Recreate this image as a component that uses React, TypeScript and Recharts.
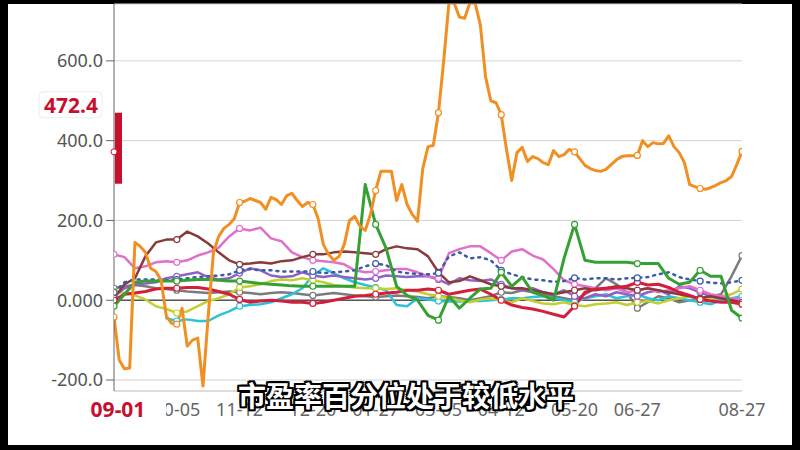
import React from "react";
import {
  LineChart,
  Line,
  XAxis,
  YAxis,
  CartesianGrid,
  ReferenceLine,
  ReferenceArea,
  ReferenceDot,
} from "recharts";

// label days on the x axis (day 0 = 09-01)
const tickDays = [0, 36, 72, 114, 150, 186, 222, 264, 300, 360];
const tickLabels = ["09-01", "10-05", "11-12", "12-20", "01-27", "03-05", "04-12", "05-20", "06-27", "08-27"];
const markerDays = [0, 36, 72, 114, 150, 186, 222, 264, 300, 336, 360];
const yTicks = [-200, 0, 200, 400, 600];

// orange sampled every 3 days, the rest every 6 days
const orange = [
  -42, -150, -172, -170, 145, 135, 120, 80, 72, 50,
  -40, -58, -60, -20, -115, -100, -95, -215, -40, 120,
  160, 180, 190, 205, 245, 248, 255, 250, 245, 228,
  258, 252, 240, 262, 268, 250, 235, 245, 240, 205,
  140, 115, 100, 110, 140, 200, 210, 185, 175, 215,
  275, 323, 323, 323, 250, 290, 240, 215, 198, 330,
  385, 388, 470, 600, 745, 745, 710, 707, 745, 745,
  690, 560, 500, 495, 465, 378, 300, 370, 383, 348,
  360, 355, 345, 340, 375, 360, 365, 378, 372, 355,
  338, 330, 325, 323, 328, 340, 352, 360, 362, 362,
  363, 400, 385, 395, 392, 393, 412, 385, 370, 345,
  290, 285, 280, 278, 282, 288, 295, 300, 310, 340,
  373,
];
const green = [
  -15, 15, 45, 48, 48, 48, 48, 50, 52, 52,
  50, 48, 48, 45, 42, 40, 38, 36, 35, 35,
  35, 35, 35, 35, 290, 190, 130, 35, 12, 0,
  -38, -50, 10, -20, 5, 28, 30, 70, 35, 58,
  20, 12, 0, 105, 190, 100, 95, 95, 95, 95,
  92, 92, 92, 55, 40, 45, 75, 60, 60, -25,
  -45,
];
const brown = [
  5, 40, 55, 110, 145, 152, 152, 172, 160, 142,
  120, 100, 90, 92, 95, 92, 98, 100, 108, 115,
  115, 120, 122, 120, 118, 115, 128, 135, 130, 128,
  110, 70, 45, 48, 60, 50, 40, 35, 30, 30,
  25, 20, 15, 20, 25, 30, 25, 30, 35, 30,
  25, 30, 25, 20, 15, 10, 5, 10, 5, 0,
  -5,
];
const pink = [
  115, 108, 80, 85, 95, 98, 95, 100, 112, 120,
  132, 160, 180, 175, 182, 155, 148, 120, 108, 100,
  98, 95, 90, 75, 70, 72, 75, 78, 78, 70,
  60, 55, 118, 128, 135, 135, 118, 100, 122, 128,
  112, 102, 78, 50, 40, 35, 30, 25, 30, 20,
  25, 30, 20, 25, 30, 35, 25, 15, 10, 5,
  0,
];
const blueDotted = [
  20, 45, 52, 52, 52, 50, 52, 55, 58, 60,
  62, 65, 75, 78, 75, 75, 72, 72, 72, 72,
  68, 70, 72, 75, 85, 92, 88, 72, 68, 66,
  65, 68, 110, 120, 105, 108, 100, 75, 65, 58,
  52, 50, 46, 48, 56, 52, 55, 55, 52, 55,
  56, 58, 65, 70, 58, 52, 48, 44, 42, 45,
  50,
];
const purple = [
  10, 30, 40, 42, 45, 55, 60, 65, 70, 58,
  52, 55, 68, 80, 75, 62, 58, 60, 70, 62,
  58, 62, 58, 55, 52, 55, 62, 60, 58, 60,
  60, 52, 40, 55, 50, 48, 52, 40, 30, 25,
  30, 20, 15, 25, 10, 5, 15, 10, 20, 15,
  10, 20, 25, 15, 35, 30, 20, 10, 5, 0,
  -5,
];
const yellow = [
  22, 18, 12, 2, -15, -22, -32, -28, -15, -2,
  5, 15, 32, 35, 40, 48, 52, 50, 55, 50,
  45, 38, 35, 32, 30, 30, 28, 30, 25, 22,
  15, 10, 5, 0, -5, 2, 5, 0, -5, 5,
  -2, -8, -10, -5, -12, -15, -10, -8, -5, -12,
  -5, -2, -8, 0, 5, 10, 2, 5, 10, 15,
  28,
];
const cyan = [
  null, null, null, null, null, -45, -52, -48, -52, -52,
  -38, -28, -15, -12, -10, -5, 5, 15, 30, 62,
  80, 68, 55, 45, 38, 32, 25, -12, -15, 5,
  2, -2, -3, -3, -2, -2, 0, 2, 5, 5,
  8, 10, 5, 0, -5, 5, 10, 15, 5, 10,
  15, 5, 0, 10, 5, 0, -5, -10, 0, 5,
  10,
];
const crimson = [
  0, 15, 18, 22, 28, 30, 30, 32, 32, 28,
  22, 15, 2, -5, -2, 0, -2, -5, -5, -8,
  -5, 0, 5, 10, 12, 15, 18, 20, 25, 25,
  28, 25, 15, 20, 25, 28, 15, 0, -12, -18,
  -22, -28, -35, -42, -15, 20, 28, 30, 32, 35,
  45, 38, 40, 32, 20, 12, 2, -2, -5, -5,
  -10,
];
const gray = [
  30, 35, 38, 35, 30, 28, 25, 22, 20, 18,
  20, 22, 20, 18, 15, 18, 20, 18, 15, 12,
  15, 18, 15, 12, 10, 8, 10, 12, 10, 8,
  5, 10, 8, 5, 0, 5, 10, 20, 18, 25,
  20, 15, 10, 5, 0, 15, 30, 55, 40, 20,
  -20, -5, 10, 5, -5, 0, 5, 10, 15, 60,
  112,
];

const RED = "#c8102e";
const FONT = "'Noto Sans', sans-serif";

const toPoints = (vals: (number | null)[], step: number) =>
  vals.map((v, i) => ({ day: i * step, v }));

const series = [
  { name: "gray", vals: gray, step: 6, color: "#7b7b7b", width: 2.5 },
  { name: "cyan", vals: cyan, step: 6, color: "#2cc3d8", width: 2.5 },
  { name: "yellow", vals: yellow, step: 6, color: "#c3cf33", width: 2.5 },
  { name: "purple", vals: purple, step: 6, color: "#8f63c6", width: 2.5 },
  { name: "pink", vals: pink, step: 6, color: "#e071cb", width: 2.5 },
  { name: "brown", vals: brown, step: 6, color: "#8b3a3a", width: 2.5 },
  { name: "crimson", vals: crimson, step: 6, color: "#d41f3c", width: 3 },
  { name: "blue", vals: blueDotted, step: 6, color: "#3b5ca8", width: 2.5, dash: "2 5" },
  { name: "green", vals: green, step: 6, color: "#35a034", width: 3 },
  { name: "orange", vals: orange, step: 3, color: "#f18f22", width: 3 },
];

const markerDot = (color: string) => (props: any) => {
  const { cx, cy, payload, index } = props;
  if (cx == null || cy == null || payload.v == null || !markerDays.includes(payload.day)) {
    return <g key={index} />;
  }
  return <circle key={index} cx={cx} cy={cy} r={3} fill="#fff" stroke={color} strokeWidth={1.2} />;
};

const fmtY = (v: number) => (v === 0 ? "0.000" : v.toFixed(1));

function XTick(props: any) {
  const { x, y, payload } = props;
  const idx = tickDays.indexOf(payload.value);
  const first = idx === 0;
  if (first) {
    // axis pointer tag: white box that covers the start of the next label
    return (
      <g>
        <rect x={x - 34} y={y + 6} width={86} height={26} fill="#fff" />
        <text x={x + 4} y={y} dy={26} textAnchor="middle" fill={RED} fontSize={21} fontWeight={700} fontFamily={FONT}>
          {tickLabels[idx]}
        </text>
      </g>
    );
  }
  return (
    <text x={x} y={y} dy={25} textAnchor="middle" fill="#666" fontSize={18} fontFamily={FONT}>
      {tickLabels[idx]}
    </text>
  );
}

function PriceTag(props: any) {
  const { viewBox } = props;
  if (!viewBox) return null;
  const { x, y } = viewBox;
  return (
    <g>
      <rect x={x - 75} y={y - 20} width={63} height={26} rx={4} fill="#fff" stroke="#ececec" />
      <text x={x - 43} y={y + 1} textAnchor="middle" fill={RED} fontSize={21} fontWeight={700} fontFamily={FONT}>
        472.4
      </text>
    </g>
  );
}

export default function App() {
  return (
    <div style={{ position: "fixed", left: 0, top: 0, width: 800, height: 450, background: "#000", overflow: "hidden" }}>
      <div style={{ position: "absolute", left: 8, top: 4, width: 784, height: 441, background: "#fff" }} />
      <div style={{ position: "absolute", left: 0, top: 0 }}>
        <LineChart width={800} height={450} margin={{ top: 4, right: 58, bottom: 29, left: 0 }}>
          <CartesianGrid vertical={false} stroke="#d4d4d4" />
          <XAxis
            dataKey="day"
            type="number"
            domain={[0, 360]}
            allowDataOverflow
            ticks={[...tickDays.slice(1), tickDays[0]]}
            interval={0}
            height={30}
            tickLine={false}
            tickSize={0}
            tickMargin={0}
            axisLine={{ stroke: "#cfcfcf" }}
            tick={<XTick />}
          />
          <YAxis
            type="number"
            domain={[-227.5, 742.5]}
            allowDataOverflow
            ticks={yTicks}
            interval={0}
            width={114}
            tickFormatter={fmtY}
            tickSize={8}
            tickMargin={3}
            axisLine={{ stroke: "#666" }}
            tickLine={{ stroke: "#666" }}
            tick={{ fill: "#555", fontSize: 18, fontFamily: FONT }}
          />
          <ReferenceLine y={0} stroke="#555" strokeWidth={1.5} />
          {series.map((s) => (
            <Line
              key={s.name}
              data={toPoints(s.vals, s.step)}
              dataKey="v"
              type="linear"
              stroke={s.color}
              strokeWidth={s.width}
              strokeDasharray={s.dash}
              strokeLinecap="round"
              strokeLinejoin="round"
              dot={markerDot(s.color)}
              activeDot={false}
              isAnimationActive={false}
            />
          ))}
          <ReferenceArea x1={0.5} x2={4.6} y1={292} y2={470} fill={RED} fillOpacity={1} stroke="none" ifOverflow="visible" />
          <ReferenceDot x={0} y={372} r={3} fill="#fff" stroke={RED} ifOverflow="visible" />
          <ReferenceLine y={472.4} stroke="none" ifOverflow="visible" label={<PriceTag />} />
        </LineChart>
      </div>
      <div
        style={{
          position: "absolute",
          left: 6,
          width: 800,
          top: 377,
          lineHeight: "36px",
          textAlign: "center",
          fontSize: 28,
          fontWeight: 700,
          fontFamily: "'Noto Sans CJK SC', sans-serif",
          color: "#fff",
          textShadow:
            "2px 0 0 #000, -2px 0 0 #000, 0 2px 0 #000, 0 -2px 0 #000, 2px 2px 0 #000, -2px -2px 0 #000, 2px -2px 0 #000, -2px 2px 0 #000",
        }}
      >
        市盈率百分位处于较低水平
      </div>
    </div>
  );
}
